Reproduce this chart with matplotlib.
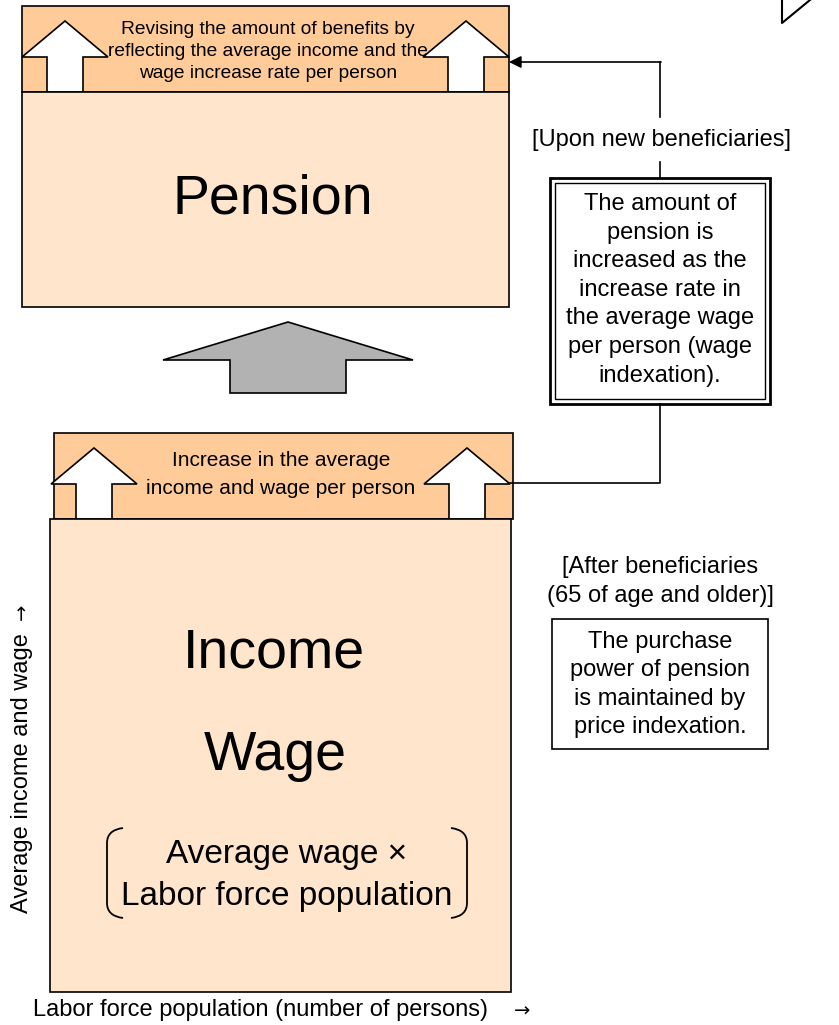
import matplotlib.pyplot as plt
from matplotlib.patches import Rectangle, Polygon, PathPatch
from matplotlib.path import Path

plt.rcParams['font.family'] = ['Liberation Sans', 'DejaVu Sans']

# texts of the diagram
top_header = ["Revising the amount of benefits by",
              "reflecting the average income and the",
              "wage increase rate per person"]
top_title = "Pension"
low_header = ["Increase in the average", "income and wage per person"]
low_title = ["Income", "Wage"]
bracket_text = ["Average wage \u00d7", "Labor force population"]
upon_label = "[Upon new beneficiaries]"
upon_box = ["The amount of", "pension is", "increased as the", "increase rate in",
            "the average wage", "per person (wage", "indexation)."]
after_label = ["[After beneficiaries", "(65 of age and older)]"]
after_box = ["The purchase", "power of pension", "is maintained by", "price indexation."]
x_label = "Labor force population (number of persons)"
y_label = "Average income and wage"
ARROW = "\u2192"

HEAD = '#FFCC99'
BODY = '#FEE5CB'
GREY = '#B2B2B2'

fig = plt.figure(figsize=(8.39, 10.25), dpi=100)
ax = fig.add_axes([0, 0, 1, 1])
ax.set_xlim(0, 839)
ax.set_ylim(1025, 0)
ax.axis('off')


def up_arrow(cx, half_w, shaft_half, tip_y, wing_y, base_y, color, z):
    pts = [(cx, tip_y), (cx + half_w, wing_y), (cx + shaft_half, wing_y),
           (cx + shaft_half, base_y), (cx - shaft_half, base_y),
           (cx - shaft_half, wing_y), (cx - half_w, wing_y)]
    ax.add_patch(Polygon(pts, closed=True, facecolor=color, edgecolor='black',
                         lw=1.2, zorder=z))


def lines(txts, x, y0, dy, size):
    for i, t in enumerate(txts):
        ax.text(x, y0 + i * dy, t, ha='center', va='center', fontsize=size, zorder=10)


# ---- top block (pension)
ax.add_patch(Rectangle((22, 6), 487, 86, facecolor=HEAD, edgecolor='black', lw=1.2, zorder=1))
up_arrow(65, 43, 18, 21, 57, 92, 'white', 2)
up_arrow(466, 43, 18, 21, 57, 92, 'white', 2)
ax.add_patch(Rectangle((22, 92), 487, 215, facecolor=BODY, edgecolor='black', lw=1.2, zorder=3))
lines(top_header, 268, 30, 21.5, 13.8)
ax.text(273, 213, top_title, ha='center', va='baseline', fontsize=40, zorder=10)

# ---- grey arrow between blocks
up_arrow(288, 125, 58, 322, 360, 393, GREY, 2)

# ---- lower block (income)
ax.add_patch(Rectangle((54, 433), 459, 86, facecolor=HEAD, edgecolor='black', lw=1.2, zorder=1))
up_arrow(94, 43, 18, 448, 484, 519, 'white', 2)
up_arrow(467, 43, 18, 448, 484, 519, 'white', 2)
ax.add_patch(Rectangle((50, 519), 461, 473, facecolor=BODY, edgecolor='black', lw=1.2, zorder=3))
lines(low_header, 281, 461, 27, 15)
ax.text(274, 668, low_title[0], ha='center', va='baseline', fontsize=40, zorder=10)
ax.text(275, 770, low_title[1], ha='center', va='baseline', fontsize=40, zorder=10)
lines(bracket_text, 287, 855, 42, 24)

# curly-ish brackets
for x0, d in [(107, 1), (467, -1)]:
    verts = [(x0 + 16 * d, 828), (x0, 830), (x0, 843), (x0, 903), (x0, 916), (x0 + 16 * d, 918)]
    codes = [Path.MOVETO, Path.CURVE3, Path.CURVE3, Path.LINETO, Path.CURVE3, Path.CURVE3]
    ax.add_patch(PathPatch(Path(verts, codes), fill=False, lw=1.3, zorder=10))

# axis labels
ax.text(22, 913, y_label, rotation=90, ha='center', va='bottom', fontsize=17)
ax.text(22, 612, ARROW, rotation=90, ha='center', va='center', fontsize=14,
        family='DejaVu Sans')
ax.text(33, 1010, x_label, ha='left', va='center', fontsize=17)
ax.text(522, 1011, ARROW, ha='center', va='center', fontsize=14, family='DejaVu Sans')

# ---- right side: wage indexation
ax.plot([660, 660], [117, 62], color='black', lw=1.2)
ax.annotate('', xy=(509, 62), xytext=(661, 62),
            arrowprops=dict(arrowstyle='-|>', color='black', lw=1.2, mutation_scale=18,
                            shrinkA=0, shrinkB=0))
ax.text(661, 140, upon_label, ha='center', va='center', fontsize=17)
ax.plot([660, 660], [162, 178], color='black', lw=1.2)
ax.add_patch(Rectangle((550, 178), 220, 226, facecolor='white', edgecolor='black', lw=2.0, zorder=4))
ax.add_patch(Rectangle((555, 183), 210, 216, facecolor='none', edgecolor='black', lw=1.0, zorder=5))
lines(upon_box, 660, 204, 28.6, 17)
ax.plot([660, 660, 510], [404, 483, 483], color='black', lw=1.2, zorder=6)

# ---- price indexation
lines(after_label, 660, 567, 29, 17)
ax.add_patch(Rectangle((552, 619), 216, 130, facecolor='white', edgecolor='black', lw=1.2, zorder=4))
lines(after_box, 660, 642, 28.3, 17)

# cut-off shape in the corner
ax.plot([782, 782, 810], [0, 23, 0], color='black', lw=1.5)

fig.savefig('out.png', dpi=100)
